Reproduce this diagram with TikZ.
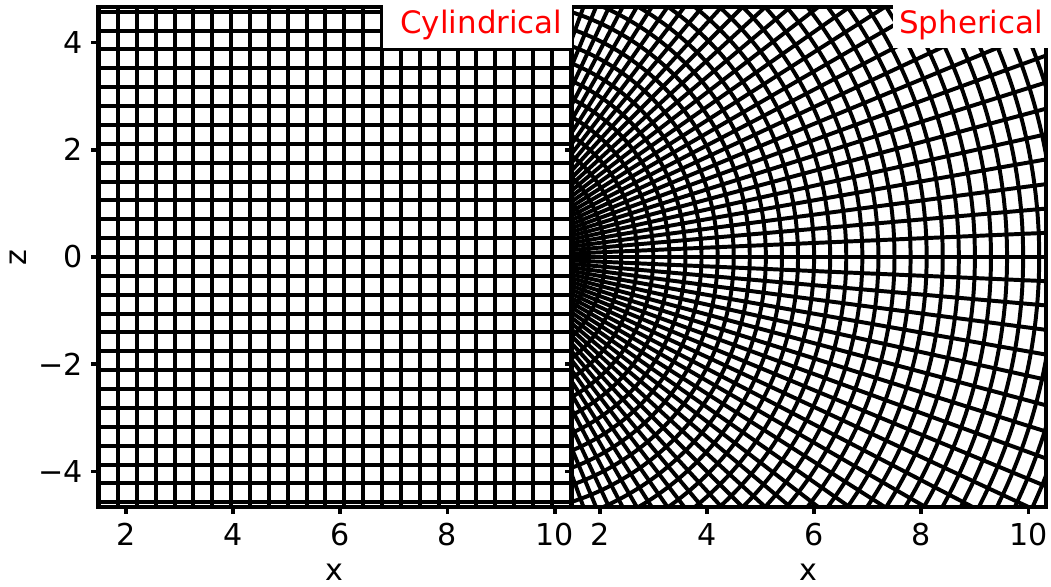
\documentclass[tikz,border=0pt]{standalone}
\usepackage{fontspec}
\setmainfont{DejaVu Sans}

\begin{document}
\begin{tikzpicture}[x=1cm,y=1cm,
  gridline/.style={line width=2.1pt},
  spine/.style={line width=2.1pt},
  tickmark/.style={line width=2pt},
  ticklab/.style={font=\fontsize{16}{19}\selectfont,inner sep=0pt},
  tag/.style={font=\fontsize{16.4}{19}\selectfont,text=red,inner sep=0pt,anchor=base west}]
\useasboundingbox (0,0) rectangle (19.608,10.933);

% cylindrical panel
\begin{scope}[shift={(0.348,6.138)}]
  \begin{scope}
    \clip (1.48,-4.66) rectangle (10.32,4.66);
    \foreach \k in {0,...,25} \draw[gridline] ({1.5+0.352*\k},-4.8) -- ({1.5+0.352*\k},4.8);
    \foreach \k in {-13,...,13} \draw[gridline] (1.4,{0.352*\k}) -- (10.4,{0.352*\k});
  \end{scope}
  \draw[spine] (1.48,-4.66) rectangle (10.32,4.66);
  \foreach \v in {2,4,6,8,10} {
    \draw[tickmark] (\v,-4.66) -- (\v,-4.79);
    \node[ticklab,anchor=north] (cx\v) at (\v,-4.963) {\v};
  }
  \foreach \v/\t in {-4/−4,-2/−2,0/0,2/2,4/4} {
    \draw[tickmark] (1.48,\v) -- (1.35,\v);
    \node[ticklab,anchor=east] (cz\v) at (1.201,\v) {\t};
  }
  \node[ticklab,anchor=north] (cxlab) at (5.9,-5.73) {x};
  \node[ticklab,rotate=90] (zlab) at (-0.012,-0.02) {z};
\end{scope}

% spherical panel
\begin{scope}[shift={(9.188,6.138)}]
  \begin{scope}
    \clip (1.48,-4.66) rectangle (10.32,4.66);
    \foreach \k in {0,...,33} \draw[gridline] (0,0) circle ({1.5+0.3*\k});
    \foreach \k in {0,...,72} \draw[gridline] ({-90+2.5*\k}:1.5) -- ({-90+2.5*\k}:11.6);
  \end{scope}
  \draw[spine] (1.48,-4.66) rectangle (10.32,4.66);
  \foreach \v in {2,4,6,8,10} {
    \draw[tickmark] (\v,-4.66) -- (\v,-4.79);
    \node[ticklab,anchor=north] (sx\v) at (\v,-4.963) {\v};
  }
  \foreach \v in {-4,-2,0,2,4}
    \draw[tickmark] (1.48,\v) -- (1.35,\v);
  \node[ticklab,anchor=north] (sxlab) at (5.9,-5.73) {x};
\end{scope}

% panel tags
\fill[white] (7.146,10.037) rectangle (10.672,10.95);
\node[tag] (cyl) at (7.463,10.317) {Cylindrical};
\fill[white] (16.660,10.037) rectangle (19.62,10.95);
\node[tag] (sph) at (16.772,10.317) {Spherical};
\end{tikzpicture}
\end{document}
